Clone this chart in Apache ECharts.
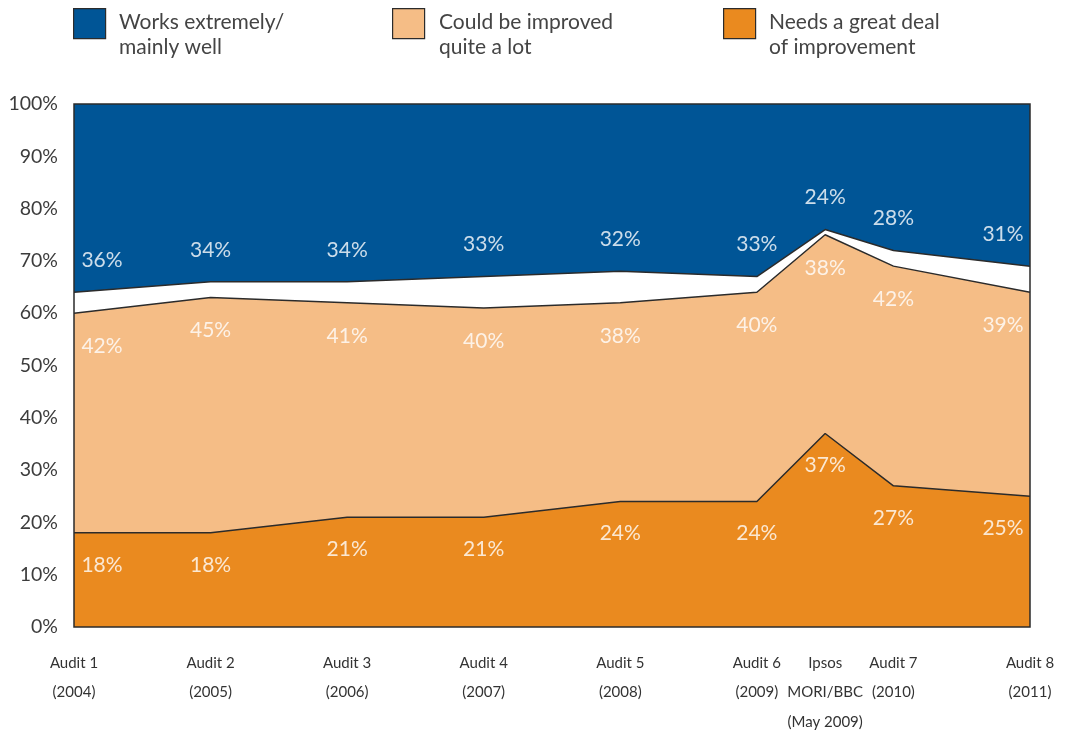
<!DOCTYPE html>
<html>
<head>
<meta charset="utf-8">
<script src="https://cdn.jsdelivr.net/npm/echarts@6/dist/echarts.min.js"></script>
<style>
  html, body { margin: 0; padding: 0; background: #ffffff; }
  #chart { width: 1066px; height: 735px; }
</style>
</head>
<body>
<div id="chart"></div>
<script>
// Survey waves and their position along the time axis (Ipsos sits between Audit 6 and 7)
const categories = [
  'Audit 1\n(2004)', 'Audit 2\n(2005)', 'Audit 3\n(2006)', 'Audit 4\n(2007)',
  'Audit 5\n(2008)', 'Audit 6\n(2009)', 'Ipsos\nMORI/BBC\n(May 2009)',
  'Audit 7\n(2010)', 'Audit 8\n(2011)'
];
const positions = [0, 1, 2, 3, 4, 5, 5.5, 6, 7];

// Shares of respondents (%)
const needsImprovement = [18, 18, 21, 21, 24, 24, 37, 27, 25];
const couldImprove = [42, 45, 41, 40, 38, 40, 38, 42, 39];
const remainder = [4, 3, 4, 6, 6, 3, 1, 3, 5];
const worksWell = [36, 34, 34, 33, 32, 33, 24, 28, 31];

const yTicks = [0, 10, 20, 30, 40, 50, 60, 70, 80, 90, 100];

const NAME_WORKS = 'Works extremely/\nmainly well';
const NAME_COULD = 'Could be improved\nquite a lot';
const NAME_NEEDS = 'Needs a great deal\nof improvement';

const COLOR_BLUE = '#005596';
const COLOR_LIGHT = '#F5BD86';
const COLOR_ORANGE = '#EA8A1F';
const EDGE = '#2b2b2b';
const FONT = 'Lato, "Open Sans", sans-serif';

// Running totals: each band is painted from the axis up to its own top edge,
// upper bands first, so the lower bands cover them.
const orangeTop = needsImprovement.map((v) => v);
const lightTop = orangeTop.map((v, i) => v + couldImprove[i]);
const whiteTop = lightTop.map((v, i) => v + remainder[i]);
const blueTop = whiteTop.map((v, i) => v + worksWell[i]);

const pairs = (vals) => vals.map((v, i) => [positions[i], v]);

function areaSeries(name, tops, color, lineW, z) {
  return {
    name: name,
    type: 'line',
    data: pairs(tops),
    symbol: 'none',
    silent: true,
    itemStyle: { color: color },
    lineStyle: { color: EDGE, width: lineW },
    areaStyle: { color: color, opacity: 1, origin: 'start' },
    z: z
  };
}

// Value labels sit a fixed distance from the band edge they belong to
function labelSeries(anchors, texts, dy) {
  const last = anchors.length - 1;
  return {
    type: 'scatter',
    silent: true,
    symbolSize: 1,
    itemStyle: { color: 'rgba(0,0,0,0)' },
    z: 8,
    data: anchors.map((v, i) => ({
      value: [positions[i], v],
      label: {
        show: true,
        position: 'inside',
        formatter: texts[i] + '%',
        color: '#ffffff',
        fontFamily: FONT,
        fontSize: 21,
        offset: [i === 0 ? 28 : (i === last ? -27 : 0), dy]
      }
    }))
  };
}

// Legend swatch (no text) and legend caption (no swatch) are placed separately
function legendSwatch(name, left) {
  return {
    data: [name],
    left: left,
    top: 8,
    padding: 0,
    icon: 'rect',
    itemWidth: 32,
    itemHeight: 30,
    selectedMode: false,
    formatter: () => '',
    itemStyle: { borderColor: EDGE, borderWidth: 1.2 }
  };
}

function legendCaption(name, left) {
  return {
    data: [name],
    left: left,
    top: 9.5,
    padding: 0,
    icon: 'none',
    itemWidth: 1,
    itemHeight: 1,
    selectedMode: false,
    textStyle: {
      fontFamily: FONT,
      fontSize: 21,
      lineHeight: 25,
      color: '#444444'
    }
  };
}

const chart = echarts.init(document.getElementById('chart'), null, { renderer: 'canvas' });

chart.setOption({
  animation: false,
  backgroundColor: '#ffffff',
  legend: [
    legendSwatch(NAME_WORKS, 73),
    legendSwatch(NAME_COULD, 392),
    legendSwatch(NAME_NEEDS, 723),
    legendCaption(NAME_WORKS, 113),
    legendCaption(NAME_COULD, 433),
    legendCaption(NAME_NEEDS, 763)
  ],
  grid: {
    left: 74,
    right: 36,
    top: 104,
    bottom: 108,
    outerBoundsMode: 'none',
    show: true,
    borderColor: EDGE,
    borderWidth: 1.5,
    backgroundColor: 'rgba(0,0,0,0)',
    z: 10
  },
  xAxis: {
    type: 'value',
    min: 0,
    max: 7,
    axisLine: { show: false },
    axisTick: { show: false },
    splitLine: { show: false },
    axisLabel: {
      customValues: positions,
      formatter: (val) => {
        const idx = positions.indexOf(val);
        return idx >= 0 ? categories[idx] : '';
      },
      margin: 21,
      fontFamily: FONT,
      fontSize: 15,
      lineHeight: 29.5,
      color: '#333333',
      verticalAlign: 'top'
    }
  },
  yAxis: {
    type: 'value',
    min: 0,
    max: 100,
    interval: 10,
    axisLine: { show: false },
    axisTick: { show: false },
    splitLine: { show: false },
    axisLabel: {
      customValues: yTicks,
      formatter: '{value}%',
      margin: 16,
      fontFamily: FONT,
      fontSize: 19.5,
      color: '#3c3c3c'
    }
  },
  series: [
    areaSeries(NAME_WORKS, blueTop, COLOR_BLUE, 0, 1),
    areaSeries('Remainder', whiteTop, '#ffffff', 1.5, 2),
    areaSeries(NAME_COULD, lightTop, COLOR_LIGHT, 1.5, 3),
    areaSeries(NAME_NEEDS, orangeTop, COLOR_ORANGE, 1.5, 4),
    labelSeries(orangeTop, needsImprovement, 32),
    labelSeries(lightTop, couldImprove, 33),
    labelSeries(whiteTop, worksWell, -32)
  ]
});
</script>
</body>
</html>
